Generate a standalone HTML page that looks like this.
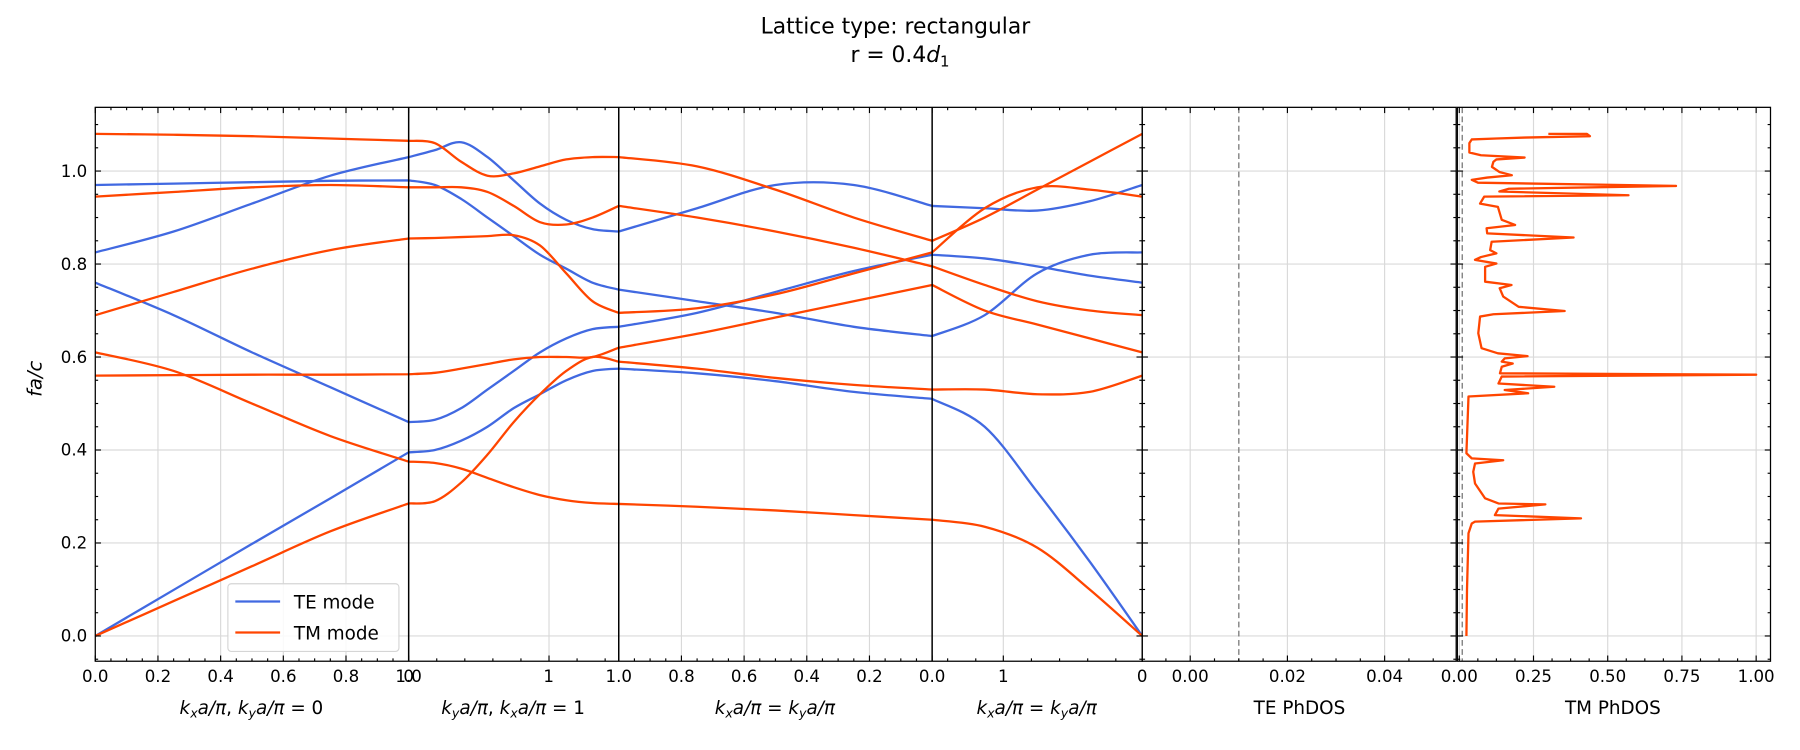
<!DOCTYPE html>
<html><head><meta charset="utf-8"><style>
html,body{margin:0;padding:0;background:#fff;}
svg{display:block;font-family:"DejaVu Sans","Liberation Sans",sans-serif;}
</style></head><body>
<svg id="chart" xmlns="http://www.w3.org/2000/svg" width="1800" height="750" viewBox="0 0 1568 653.33" preserveAspectRatio="none">
<text x="780" y="29" font-size="19" text-anchor="middle" fill="#000">Lattice type: rectangular</text>
<text x="784" y="54" font-size="19" text-anchor="middle" fill="#000">r = 0.4<tspan font-style="italic">d</tspan><tspan font-size="13" dy="4">1</tspan></text>
<g id="grid"></g>
<g id="marks"></g>
<g id="frames"></g>
<g id="ticks"></g>
<text x="0" y="0" font-size="17" font-style="italic" text-anchor="middle" transform="translate(36,330) rotate(-90)">fa/c</text>
<text x="219" y="622" font-size="16" text-anchor="middle"><tspan font-style="italic">k<tspan font-size="11" dy="3">x</tspan><tspan dy="-3">a</tspan>/π</tspan>, <tspan font-style="italic">k<tspan font-size="11" dy="3">y</tspan><tspan dy="-3">a</tspan>/π</tspan> = 0</text>
<text x="447" y="622" font-size="16" text-anchor="middle"><tspan font-style="italic">k<tspan font-size="11" dy="3">y</tspan><tspan dy="-3">a</tspan>/π</tspan>, <tspan font-style="italic">k<tspan font-size="11" dy="3">x</tspan><tspan dy="-3">a</tspan>/π</tspan> = 1</text>
<text x="675" y="622" font-size="16" text-anchor="middle"><tspan font-style="italic">k<tspan font-size="11" dy="3">x</tspan><tspan dy="-3">a</tspan>/π</tspan> = <tspan font-style="italic">k<tspan font-size="11" dy="3">y</tspan><tspan dy="-3">a</tspan>/π</tspan></text>
<text x="903" y="622" font-size="16" text-anchor="middle"><tspan font-style="italic">k<tspan font-size="11" dy="3">x</tspan><tspan dy="-3">a</tspan>/π</tspan> = <tspan font-style="italic">k<tspan font-size="11" dy="3">y</tspan><tspan dy="-3">a</tspan>/π</tspan></text>
<text x="1132" y="622" font-size="16" text-anchor="middle">TE PhDOS</text>
<text x="1405" y="622" font-size="16" text-anchor="middle">TM PhDOS</text>
<g>
<rect x="198.5" y="508.5" width="149" height="59" rx="3" fill="#fff" fill-opacity="0.85" stroke="#d5d5d5" stroke-width="1"/>
<line x1="205" y1="524" x2="244" y2="524" stroke="#4169e1" stroke-width="2"/>
<text x="256" y="530" font-size="16">TE mode</text>
<line x1="205" y1="551" x2="244" y2="551" stroke="#ff4500" stroke-width="2"/>
<text x="256" y="557" font-size="16">TM mode</text>
</g>
</svg>
<script>
// path parameter nodes (segment index + fraction)
const kNodes = [0,0.25,0.5,0.75,1, 1.125,1.25,1.375,1.5,1.625,1.75,1.875,2, 2.25,2.5,2.75,3, 3.25,3.5,3.75,4];
const teBand1 = [0,0.099,0.198,0.296,0.395, 0.40,0.42,0.45,0.49,0.52,0.55,0.57,0.575, 0.565,0.548,0.525,0.51, 0.45,0.31,0.16,0.0];
const teBand2 = [0.76,0.69,0.61,0.535,0.46, 0.465,0.49,0.53,0.57,0.61,0.64,0.66,0.665, 0.695,0.74,0.785,0.82, 0.812,0.795,0.775,0.76];
const teBand3 = [0.825,0.87,0.93,0.99,1.03, 1.045,1.062,1.03,0.98,0.93,0.895,0.875,0.87, 0.92,0.97,0.97,0.925, 0.92,0.915,0.935,0.97];
const teBand4 = [0.97,0.973,0.976,0.979,0.98, 0.97,0.94,0.9,0.86,0.82,0.79,0.76,0.745, 0.72,0.695,0.665,0.645, 0.69,0.78,0.82,0.825];
const tmBand1 = [0,0.075,0.15,0.225,0.285, 0.29,0.33,0.39,0.46,0.52,0.57,0.60,0.59, 0.575,0.555,0.54,0.53, 0.53,0.52,0.525,0.56];
const tmBand2 = [0.61,0.57,0.50,0.43,0.375, 0.372,0.36,0.34,0.32,0.303,0.292,0.286,0.284, 0.278,0.27,0.26,0.25, 0.235,0.19,0.1,0.0];
const tmBand3 = [0.56,0.561,0.562,0.562,0.563, 0.566,0.575,0.585,0.595,0.60,0.60,0.60,0.62, 0.65,0.685,0.72,0.755, 0.70,0.67,0.64,0.61];
const tmBand4 = [0.69,0.74,0.79,0.83,0.855, 0.856,0.858,0.86,0.862,0.84,0.78,0.72,0.695, 0.705,0.735,0.78,0.825, 0.92,0.965,0.96,0.945];
const tmBand5 = [0.945,0.955,0.965,0.97,0.965, 0.965,0.965,0.955,0.925,0.89,0.885,0.9,0.925, 0.9,0.87,0.835,0.795, 0.755,0.72,0.70,0.69];
const tmBand6 = [1.08,1.078,1.075,1.07,1.065, 1.06,1.02,0.99,0.995,1.01,1.025,1.03,1.03, 1.01,0.96,0.9,0.85, 0.9,0.96,1.02,1.08];
// TM photonic DOS: frequencies and values
const tmDosFreq = [1.080,1.080,1.075,1.072,1.070,1.068,1.060,1.040,1.034,1.029,1.025,1.020,1.009,0.998,0.991,0.986,0.981,0.975,0.968,0.962,0.956,0.948,0.945,0.930,0.923,0.895,0.884,0.877,0.866,0.857,0.848,0.830,0.823,0.815,0.809,0.801,0.794,0.762,0.755,0.748,0.730,0.708,0.699,0.692,0.687,0.651,0.619,0.608,0.602,0.597,0.590,0.586,0.579,0.565,0.562,0.558,0.543,0.536,0.529,0.522,0.515,0.393,0.382,0.378,0.371,0.353,0.328,0.296,0.285,0.283,0.274,0.260,0.253,0.246,0.242,0.221,0.1,0.0];
const tmDosVal = [0.30,0.43,0.44,0.22,0.125,0.042,0.034,0.034,0.073,0.22,0.125,0.115,0.11,0.135,0.177,0.094,0.042,0.063,0.73,0.167,0.135,0.57,0.084,0.07,0.13,0.143,0.188,0.092,0.094,0.385,0.109,0.104,0.125,0.073,0.053,0.125,0.087,0.087,0.176,0.136,0.148,0.2,0.355,0.115,0.07,0.064,0.075,0.13,0.23,0.153,0.143,0.18,0.143,0.137,1.0,0.143,0.132,0.32,0.153,0.232,0.031,0.024,0.042,0.148,0.053,0.047,0.053,0.087,0.132,0.29,0.132,0.12,0.41,0.053,0.042,0.031,0.026,0.024];
const yTicks = [0,0.2,0.4,0.6,0.8,1.0];
const yTickLabels = ["0.0","0.2","0.4","0.6","0.8","1.0"];
const teDosTicks = [0,0.02,0.04];
const teDosTickLabels = ["0.00","0.02","0.04"];
const tmDosTicks = [0,0.25,0.5,0.75,1.0];
const tmDosTickLabels = ["0.00","0.25","0.50","0.75","1.00"];
const dosMarker = 0.01;

const NS = "http://www.w3.org/2000/svg";
const segX = [83,356,539,812,995];
const TOP = 93.5, BOT = 576;
const TE = {l:995, r:1268.5, x0:1036.8, k:4234};
const TM = {l:1269.5, r:1542.3, x0:1271.2, k:258.6};
function yS(v){ return 554 - 405*v; }
function xK(u){ let s=Math.min(3,Math.floor(u)); return segX[s] + (u-s)*(segX[s+1]-segX[s]); }
function xTE(d){ return TE.x0 + TE.k*d; }
function xTM(d){ return TM.x0 + TM.k*d; }
function mk(tag, attrs, parent){ const e=document.createElementNS(NS,tag); for(const k in attrs) e.setAttribute(k,attrs[k]); parent.appendChild(e); return e; }

const grid=document.getElementById('grid'), marks=document.getElementById('marks'), frames=document.getElementById('frames'), ticks=document.getElementById('ticks');
const GC="#d9d9d9";
// horizontal grid
yTicks.forEach(v=>{
  [[83,995],[TE.l,TE.r],[TM.l,TM.r]].forEach(p=>{
    const g=mk('line',{x1:p[0],x2:p[1],y1:yS(v),y2:yS(v),stroke:GC,'stroke-width':1},grid);
    
    
  });
});
// x tick definitions for band panel
const bandMajor=[], bandMinor=[], bandLabels=[];
for(let i=0;i<=5;i++){ bandMajor.push(83+273*i/5); if(i<5) bandLabels.push([83+273*i/5,yTickLabels[i]]); }
for(let i=1;i<20;i++) if(i%4) bandMinor.push(83+273*i/20);
bandLabels.push([356,"1.0"]); bandLabels.push([356,"0"]);
for(let i=1;i<8;i++){ if(i===5){bandMajor.push(356+24.45*i);} else bandMinor.push(356+24.45*i); }
bandLabels.push([478,"1"]);
const seg3Lab=["1.0","0.8","0.6","0.4","0.2","0.0"];
for(let i=0;i<=5;i++){ bandMajor.push(539+54.6*i); bandLabels.push([539+54.6*i,seg3Lab[i]]); }
for(let i=1;i<20;i++) if(i%4) bandMinor.push(539+54.6*i/4);
bandMajor.push(874); bandLabels.push([874,"1"]); bandLabels.push([995,"0"]);
[825.5,850,898.5,923,947.5,972].forEach(x=>bandMinor.push(x));
// vertical grid
bandMajor.forEach(x=>{ if(x>84 && Math.abs(x-356)>1 && Math.abs(x-539)>1 && Math.abs(x-812)>1 && x<994){
  const g=mk('line',{x1:x,x2:x,y1:TOP,y2:BOT,stroke:GC,'stroke-width':1},grid);
  
  
}});
teDosTicks.forEach(d=>{ const g=mk('line',{x1:xTE(d),x2:xTE(d),y1:TOP,y2:BOT,stroke:GC,'stroke-width':1},grid);
  
   });
tmDosTicks.forEach(d=>{ const g=mk('line',{x1:xTM(d),x2:xTM(d),y1:TOP,y2:BOT,stroke:GC,'stroke-width':1},grid);
  
   });

// bands: Catmull-Rom within each segment
function bandPath(vals){
  let d="";
  for(let s=0;s<4;s++){
    const idx=[]; kNodes.forEach((u,i)=>{ if(u>=s-1e-9 && u<=s+1+1e-9) idx.push(i); });
    const P=idx.map(i=>[xK(kNodes[i]), yS(vals[i])]);
    d += (s===0?"M":"L")+P[0][0].toFixed(2)+","+P[0][1].toFixed(2);
    for(let i=0;i<P.length-1;i++){
      const p0=P[Math.max(0,i-1)],p1=P[i],p2=P[i+1],p3=P[Math.min(P.length-1,i+2)];
      const c1=[p1[0]+(p2[0]-p0[0])/6,p1[1]+(p2[1]-p0[1])/6];
      const c2=[p2[0]-(p3[0]-p1[0])/6,p2[1]-(p3[1]-p1[1])/6];
      d+="C"+c1.map(n=>n.toFixed(2))+" "+c2.map(n=>n.toFixed(2))+" "+p2.map(n=>n.toFixed(2));
    }
  }
  return d;
}
const teBands=[teBand1,teBand2,teBand3,teBand4], tmBands=[tmBand1,tmBand2,tmBand3,tmBand4,tmBand5,tmBand6];
teBands.forEach((b,i)=>{ const p=mk('path',{d:bandPath(b),fill:'none',stroke:'#4169e1','stroke-width':2,'stroke-linejoin':'round'},marks);
  
   });
tmBands.forEach((b,i)=>{ const p=mk('path',{d:bandPath(b),fill:'none',stroke:'#ff4500','stroke-width':2,'stroke-linejoin':'round'},marks);
  
   });
// segment separators
[356,539,812].forEach(x=>{ const l=mk('line',{x1:x,x2:x,y1:TOP,y2:BOT,stroke:'#000','stroke-width':1.3},marks);
  
   });
// dashed markers
const dm1=mk('line',{x1:xTE(dosMarker),x2:xTE(dosMarker),y1:TOP,y2:BOT,stroke:'#808080','stroke-width':1.2,'stroke-dasharray':'5,3'},marks);


const dm2=mk('line',{x1:xTM(dosMarker),x2:xTM(dosMarker),y1:TOP,y2:BOT,stroke:'#808080','stroke-width':1.2,'stroke-dasharray':'5,3'},marks);


// TM DOS curve
let dd=""; tmDosFreq.forEach((f,i)=>{ dd+=(i?"L":"M")+xTM(tmDosVal[i]).toFixed(2)+","+yS(f).toFixed(2); });
const dosLine=mk('path',{d:dd,fill:'none',stroke:'#ff4500','stroke-width':2,'stroke-linejoin':'round'},marks);



// frames
[[83,995],[TE.l,TE.r],[TM.l,TM.r]].forEach(p=>{
  const r=mk('rect',{x:p[0],y:TOP,width:p[1]-p[0],height:BOT-TOP,fill:'none',stroke:'#000','stroke-width':1.1},frames);
  
  
});
// ticks
function tk(x1,y1,x2,y2){ const t=mk('line',{x1:x1,y1:y1,x2:x2,y2:y2,stroke:'#000','stroke-width':1},ticks);
  
   }
function lbl(x,y,s,anchor){ const t=mk('text',{x:x,y:y,'font-size':14.5,'text-anchor':anchor||'middle'},ticks); t.textContent=s;
  
   }
const panels=[[83,995],[TE.l,TE.r],[TM.l,TM.r]];
panels.forEach(p=>{
  yTicks.forEach(v=>{ tk(p[0],yS(v),p[0]+5,yS(v)); tk(p[1],yS(v),p[1]-5,yS(v)); });
  for(let v=-0.05;v<1.14;v+=0.05){ const r=Math.round(v*100); if(r%20===0) continue; tk(p[0],yS(v),p[0]+2.5,yS(v)); tk(p[1],yS(v),p[1]-2.5,yS(v)); }
});
yTicks.forEach((v,i)=>lbl(76,yS(v)+5,yTickLabels[i],'end'));
bandMajor.forEach(x=>{ tk(x,BOT,x,BOT-5); tk(x,TOP,x,TOP+5); });
bandMinor.forEach(x=>{ tk(x,BOT,x,BOT-2.5); tk(x,TOP,x,TOP+2.5); });
bandLabels.forEach(l=>lbl(l[0],594,l[1]));
teDosTicks.forEach((d,i)=>{ tk(xTE(d),BOT,xTE(d),BOT-5); tk(xTE(d),TOP,xTE(d),TOP+5); lbl(xTE(d),594,teDosTickLabels[i]); });
for(let d=-0.005;d<0.055;d+=0.005){ if(Math.round(d*1000)%20===0) continue; const x=xTE(d); if(x<TE.l||x>TE.r) continue; tk(x,BOT,x,BOT-2.5); tk(x,TOP,x,TOP+2.5); }
tmDosTicks.forEach((d,i)=>{ tk(xTM(d),BOT,xTM(d),BOT-5); tk(xTM(d),TOP,xTM(d),TOP+5); lbl(xTM(d),594,tmDosTickLabels[i]); });
for(let d=0.0625;d<1.05;d+=0.0625){ if(Math.round(d*16)%4===0) continue; const x=xTM(d); tk(x,BOT,x,BOT-2.5); tk(x,TOP,x,TOP+2.5); }
</script>
</body></html>
